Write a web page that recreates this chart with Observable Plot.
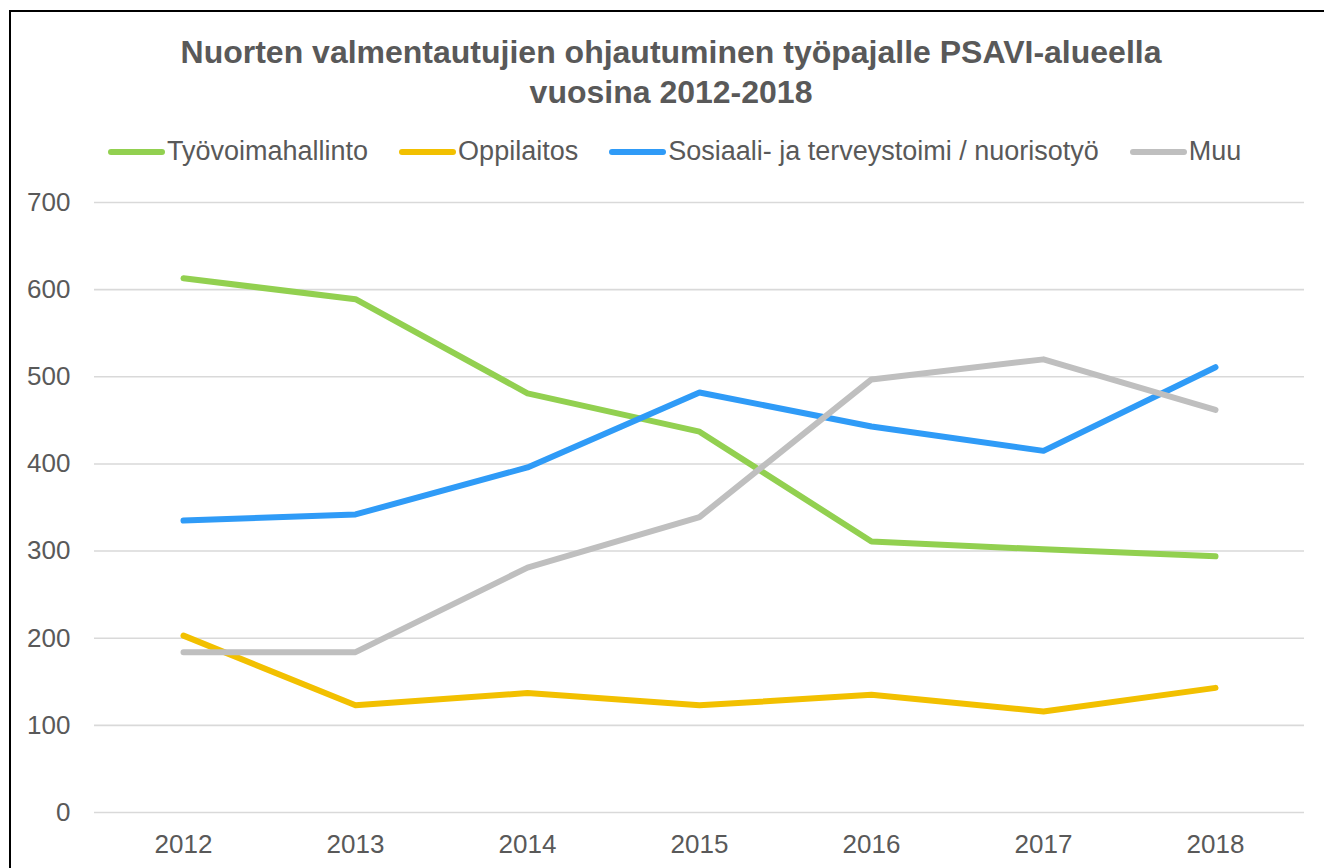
<!DOCTYPE html>
<html>
<head>
<meta charset="utf-8">
<script src="https://cdn.jsdelivr.net/npm/d3@7"></script>
<script src="https://cdn.jsdelivr.net/npm/@observablehq/plot@0.6"></script>
<style>
  html, body { margin: 0; background: #fff; font-family: "Liberation Sans", Arial, sans-serif; color: #595959; overflow: hidden; width: 1324px; height: 868px; }
  #frame { position: absolute; left: 9px; top: 10px; width: 1315px; height: 858px; border-left: 2px solid #000; border-top: 2px solid #000; box-sizing: border-box; }
  #title { position: absolute; left: 9px; top: 32px; width: 1324px; text-align: center; font-weight: bold; font-size: 32px; line-height: 40px; color: #595959; }
  #legend { position: absolute; left: 108px; top: 136px; display: flex; align-items: center; font-size: 27px; color: #595959; white-space: nowrap; }
  .item { display: flex; align-items: center; margin-right: 31px; }
  .sw { width: 57px; height: 6px; border-radius: 3px; margin-right: 2px; }
  #chart { position: absolute; left: 0; top: 180px; }
</style>
</head>
<body>
<div id="frame"></div>
<div id="title">Nuorten valmentautujien ohjautuminen työpajalle PSAVI-alueella<br>vuosina 2012-2018</div>
<div id="legend"></div>
<div id="chart"></div>
<script>
const years = ["2012", "2013", "2014", "2015", "2016", "2017", "2018"];
const seriesNames = ["Työvoimahallinto", "Oppilaitos", "Sosiaali- ja terveystoimi / nuorisotyö", "Muu"];
const seriesColors = ["#92D050", "#F2C000", "#2F9BF7", "#BFBFBF"];
const tyovoimahallinto = [613, 589, 481, 437, 311, 302, 294];
const oppilaitos = [203, 123, 137, 123, 135, 116, 143];
const sosiaali = [335, 342, 396, 482, 443, 415, 511];
const muu = [184, 184, 281, 339, 497, 520, 462];
const yTicks = [0, 100, 200, 300, 400, 500, 600, 700];

const allValues = [tyovoimahallinto, oppilaitos, sosiaali, muu];
const data = [];
seriesNames.forEach((name, si) => {
  years.forEach((yr, i) => data.push({series: name, year: yr, value: allValues[si][i]}));
});

// legend
const legend = document.getElementById("legend");
seriesNames.forEach((name, i) => {
  const it = document.createElement("div");
  it.className = "item";
  const sw = document.createElement("div");
  sw.className = "sw";
  sw.style.background = seriesColors[i];
  const tx = document.createElement("span");
  tx.textContent = name;
  it.appendChild(sw); it.appendChild(tx);
  legend.appendChild(it);
});

const plot = Plot.plot({
  width: 1324,
  height: 688,
  marginLeft: 94,
  marginRight: 20,
  marginTop: 22,
  marginBottom: 56,
  style: {fontFamily: "'Liberation Sans', Arial, sans-serif", fontSize: "26px", color: "#595959", background: "transparent"},
  x: {type: "point", domain: years, padding: 0.5},
  y: {domain: [0, 700]},
  color: {domain: seriesNames, range: seriesColors},
  marks: [
    Plot.ruleY(yTicks, {stroke: "#D9D9D9", strokeWidth: 1.6}),
    Plot.axisY({ticks: yTicks, tickSize: 0, tickPadding: 24, label: null, fontSize: 26, fill: "#595959"}),
    Plot.axisX({tickSize: 0, tickPadding: 22, label: null, fontSize: 26, fill: "#595959"}),
    Plot.line(data, {x: "year", y: "value", z: "series", stroke: "series", strokeWidth: 6, strokeLinecap: "round", strokeLinejoin: "round"})
  ]
});
document.getElementById("chart").appendChild(plot);
</script>
</body>
</html>
